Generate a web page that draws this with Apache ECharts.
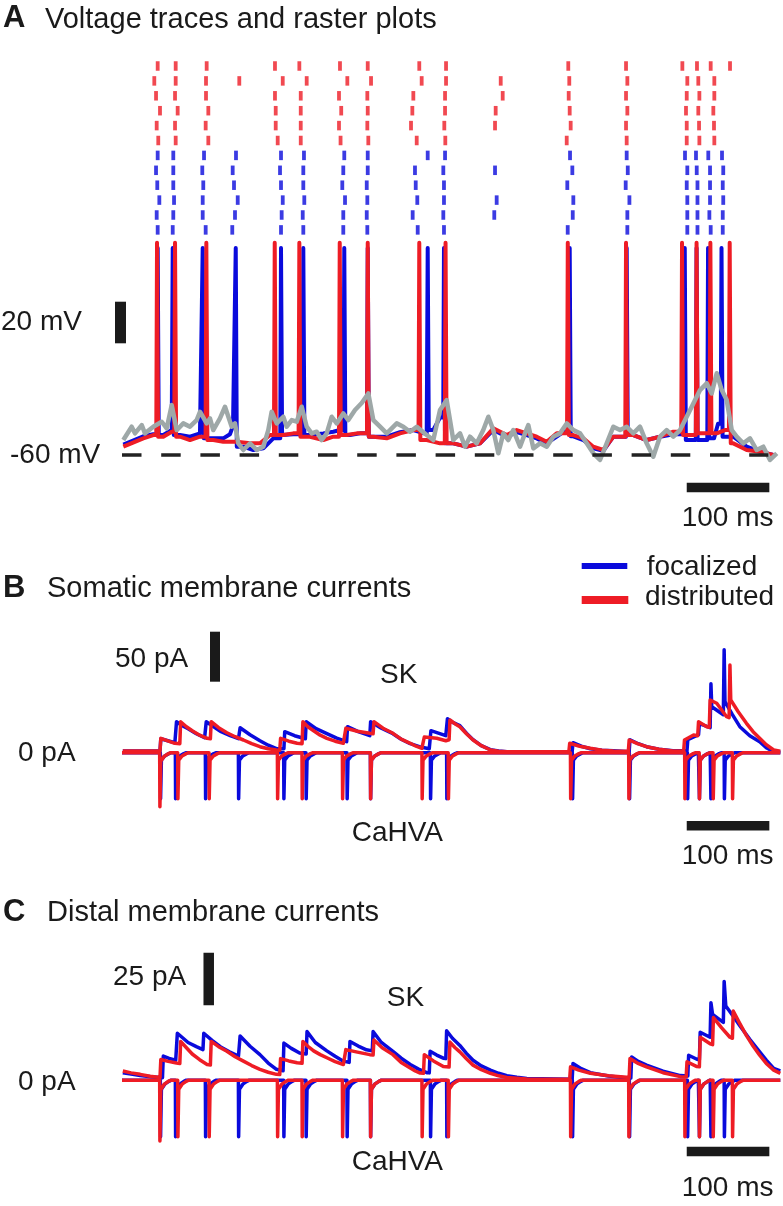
<!DOCTYPE html>
<html><head><meta charset="utf-8">
<script src="https://cdn.jsdelivr.net/npm/echarts@6/dist/echarts.min.js"></script>
<style>html,body{margin:0;padding:0;background:#fff}#c{width:783px;height:1206px}</style>
</head><body><div id="c"></div>
<script>
// ===== DATA (time in ms, voltage in mV, current in pA) =====
const redSpikes  = [42.4, 64.2, 102.1, 184.9, 214.7, 263.6, 297.5, 359.9, 391.7, 539.7, 610.2, 678.0, 695.6, 712.3, 735.7];
const blueSpikes = [43.2, 61.4, 97.7, 137.7, 192.5, 219.5, 269.1, 297.5, 370.1, 389.8, 542.0, 611.0, 681.3, 695.6, 709.5, 725.8];
const redPeak = 42, bluePeak = 39.5;

const redBase = [[1.6,-56],[25.8,-52],[37.9,-50.4],[50,-51.2],[60.2,-48.8],[70.2,-51.2],[82.3,-52.8],[94.4,-51.2],[110.5,-52.8],[122.6,-53.6],[138.9,-53.6],[155,-54.4],[167.1,-54.4],[179.2,-50.4],[195.3,-50.4],[207.4,-49.6],[227.6,-51.2],[243.7,-52.8],[255.8,-51.2],[272,-50.4],[284.2,-49.6],[304.3,-51.2],[320.5,-52],[336.6,-49.6],[352.7,-48],[368.9,-52.8],[385,-54.4],[401.1,-54.4],[417.3,-56],[433.4,-54.4],[449.5,-47.2],[465.8,-50.4],[477.9,-48],[490,-49.6],[502.1,-51.2],[514.2,-53.6],[526.3,-49.6],[546.4,-50.4],[558.5,-52],[570.6,-56],[582.7,-57.6],[594.8,-51.2],[619,-50.4],[635.2,-52.8],[651.3,-51.2],[667.5,-48.8],[685.6,-50.4],[701.8,-49.6],[720,-49.6],[730,-48],[740.1,-54.4],[756.3,-57.6],[772.4,-58.4],[788.5,-60]];
const blueBase = [[1.6,-55],[25.8,-51],[37.9,-50],[50,-50.4],[60.2,-48],[70.2,-50.4],[82.3,-51.2],[94.4,-49.6],[110.5,-52],[122.6,-52],[130.7,-50],[134.4,-46],[146.9,-56],[159,-57.6],[171.1,-56.8],[183.2,-52],[195.3,-50.4],[207.4,-50],[227.6,-50.4],[243.7,-49.6],[255.8,-48.8],[263.9,-48],[276,-50.4],[288.1,-49.6],[304.3,-51.2],[320.5,-51.2],[336.6,-49],[352.7,-48],[360.8,-49],[368.9,-50],[376.9,-48],[385,-42],[401.1,-54.4],[417.3,-56],[433.4,-54.4],[449.5,-48],[465.8,-51.2],[477.9,-49],[490,-50.4],[502.1,-52],[514.2,-54.4],[526.3,-51.2],[533.9,-49],[546.4,-51],[558.5,-52.8],[570.6,-56.8],[582.7,-58],[594.8,-51.2],[619,-50.4],[635.2,-52.8],[651.3,-51.2],[667.5,-50],[687.9,-52.8],[701.8,-52.8],[716.7,-52],[721.6,-45],[740.1,-51.2],[756.3,-56],[772.4,-58.4],[788.5,-60]];
const grayTrace = [[1.6,-52.8],[11.7,-46.4],[15.7,-49.6],[23.9,-45.6],[27.8,-49.6],[37.9,-46.4],[48.1,-44],[54.1,-47.2],[60.2,-36],[66.2,-48],[74.2,-44.8],[82.3,-46.4],[90.4,-43.2],[94.4,-39.2],[102.5,-44.8],[106.5,-42.4],[110.5,-48],[118.6,-42.4],[124.7,-36.8],[132.8,-46.4],[136.8,-44.8],[140.8,-54.4],[146.9,-57.6],[155,-54.4],[163.1,-57.6],[171.1,-56],[177.1,-48],[181.2,-39.2],[187.3,-44.8],[195.3,-41.6],[199.4,-46.4],[205.5,-43.2],[211.5,-44],[217.6,-36.8],[223.6,-46.4],[229.7,-49.6],[235.7,-48.8],[241.8,-52.8],[247.8,-49.6],[253.9,-41.6],[259.9,-44.8],[267.9,-40],[274,-43.2],[282.1,-38.4],[290.2,-35],[298.2,-30.4],[304.3,-43.2],[312.4,-46.4],[320.5,-49.6],[332.6,-44.8],[340.6,-46.4],[348.7,-48.8],[356.8,-46.4],[368.9,-50.4],[376.9,-52.8],[385,-38.4],[393.1,-33.6],[401.1,-52.8],[409.2,-49.6],[415.3,-56],[421.3,-51.2],[429.4,-54.4],[437.4,-48],[443.5,-41.6],[449.5,-48],[455.6,-59.2],[461.6,-49.6],[467.7,-52.8],[473.7,-48],[481.9,-56],[487.9,-49.6],[491.9,-45.6],[498,-56.8],[506.1,-54.4],[514.2,-56],[522.2,-51.2],[530.3,-49.6],[538.4,-44.8],[546.4,-48],[554.5,-49.6],[562.6,-54.4],[570.6,-59.2],[578.7,-62.4],[586.8,-54.4],[594.8,-46.4],[602.9,-48],[611,-46.4],[619,-49.6],[627.1,-46.4],[635.2,-54.4],[643.2,-60.8],[651.3,-51.2],[659.4,-48],[667.5,-51.2],[675.6,-48],[683.7,-41.6],[691.7,-35.2],[699.8,-28.8],[707.9,-25.5],[713.9,-30.4],[720,-20.7],[726.1,-28.8],[732.1,-33.6],[738.2,-48],[744.2,-51.2],[752.2,-54.4],[760.3,-52],[768.4,-57.6],[776.4,-56],[784.5,-62.4],[792.7,-59.2]];

// raster: spike times (ms) per trial
const rasterRed = [
  [43.2,65.0,102.5,185.2,214.7,263.9,297.5,359.9,392.3,540.3,610.2,678.4,696.1,712.7,736.1],
  [39.1,65.0,101.7,142.0,194.6,223.6,272.8,301.5,362.8,392.3,458.5,541.5,611.8,684.4,697.7,717.1],
  [41.2,64.2,101.7,185.2,216.4,262.7,297.0,352.7,391.1,460.9,540.8,610.2,683.7,699.0,717.1],
  [46.0,67.4,104.5,186.1,216.4,265.4,297.5,351.5,391.1,452.4,542.0,611.8,682.8,697.7,715.9],
  [42.0,64.2,101.3,186.1,216.4,262.7,297.0,349.9,390.2,451.6,543.2,610.2,683.7,698.6,716.7],
  [43.9,65.0,104.5,188.5,216.4,264.6,298.2,356.8,391.4,538.4,611.0,683.7,699.0,717.1]
];
const rasterBlue = [
  [43.2,62.1,99.3,138.0,192.5,220.3,269.1,297.5,370.1,391.1,542.4,611.0,681.6,694.9,709.8,726.4],
  [41.2,62.1,97.2,134.0,191.3,219.5,267.9,297.5,354.7,389.0,451.6,545.2,612.3,684.4,695.8,711.9,727.9],
  [42.7,62.1,98.4,135.6,192.5,219.5,266.7,296.3,355.6,389.8,539.1,609.8,683.7,696.7,711.9,727.3],
  [45.2,63.0,97.7,140.1,194.6,220.7,270.0,297.0,357.5,389.8,453.6,546.4,614.3,684.4,696.7,711.9,727.9],
  [42.0,62.1,97.7,136.8,193.3,218.8,267.9,296.3,351.9,389.0,450.7,545.7,611.8,684.4,696.7,711.1,727.3],
  [43.2,61.4,101.3,133.5,192.5,219.5,267.9,297.0,358.0,389.8,539.6,611.8,684.4,696.7,712.7,727.3]
];

// somatic SK current (pA)
const somaSKRed = [[1,1.7],[46,1.7],[47,14.4],[64,9.4],[70,9],[71,31],[78,26],[85,22],[94,17.5],[103,14.4],[107,14],[108,31],[117,25],[127,20],[137,16],[147,12.7],[157,9],[167,6],[177,4],[187,2.7],[191,2.5],[192,14.4],[202,11.5],[212,9.4],[218,9],[219,31],[225,26],[232,22],[240,17.5],[248,14.4],[258,11.5],[268,9.4],[270,9],[271,24.4],[285,21.5],[300,19.4],[304,19],[305,31],[316,24.5],[328,19.4],[338,13.5],[349,9.4],[356,6.5],[363,4.4],[365,4.3],[366,15.7],[381,14.4],[392,12],[396,13],[397,32.7],[403,29],[409,26],[417,19],[425,12.7],[435,7],[446,2.7],[456,1.5],[466,1],[541,1],[542,9.4],[554,6.5],[567,4.4],[581,2.5],[595,1.7],[613,1.5],[614,12.7],[624,9],[635,6],[650,3.4],[667,1.7],[680,1.7],[681,12.7],[692,17.7],[697,17],[698,31],[708,26],[711,25.5],[712,52.7],[720,49.4],[732,36],[735,35],[736,87.7],[737,52.7],[746,41],[756,29.4],[764,21],[772,14.4],[780,8],[789,2.7],[797,1.5]];
const somaSKBlue = [[1,1.7],[46,1.7],[47,14],[64,10],[66,31],[73,27],[80,24],[90,19],[100,15],[102,31],[111,26],[120,21],[131,17],[141,14],[143,25],[155,18],[167,12],[177,7.5],[187,4],[196,4],[197,21],[209,17],[222,14],[223,31],[235,24],[248,19],[260,14.5],[272,11],[273,26],[286,21],[300,17],[301,31],[314,24.5],[328,19],[338,13.5],[349,9],[360,6],[372,4],[374,22],[383,19.5],[392,17],[394,34],[401,30],[409,27],[417,19.5],[425,13],[435,7],[446,3],[456,1.7],[466,1],[545,1],[546,10],[556,6.5],[567,4],[581,2.5],[595,2],[614,1],[615,13],[625,9],[635,6],[650,3.5],[667,2],[684,2],[685,13],[698,18],[699,29],[712,25],[713,69],[714,46],[728,38],[729,103],[730,51],[739,38],[748,26],[760,17],[772,11],[780,5],[789,1],[797,1]];
// distal SK current (pA)
const distSKRed = [[1,4.4],[11,3.5],[22,2.8],[34,1.9],[46,1.3],[47,9.9],[56,9],[66,8.2],[70,8],[71,18.5],[78,15.5],[85,12.5],[94,9.8],[103,7.5],[107,7.3],[108,18.5],[117,16],[127,13.8],[137,11.2],[147,9.1],[157,7],[167,5.2],[177,3.8],[187,2.8],[191,2.7],[192,10.3],[202,9.2],[212,8.3],[218,8.1],[219,18.5],[225,16.2],[232,14],[240,12.2],[248,10.7],[258,8.9],[268,7.5],[270,7.4],[271,14.6],[285,13.4],[300,12.2],[304,12],[305,19.2],[315,15.5],[328,12.2],[338,8.5],[349,5.8],[355,4.4],[361,3.4],[365,3.3],[366,12.2],[377,9.2],[389,6.5],[396,6.3],[397,18.2],[403,15.6],[409,13.5],[417,10.2],[425,7.2],[435,5],[446,3.3],[456,2.1],[466,1.3],[478,0.9],[490,0.6],[542,0.5],[543,6.4],[553,4.8],[567,3.3],[589,2.1],[611,1.4],[614,1.3],[615,10.3],[624,8.2],[635,6.4],[655,3.6],[676,1.7],[683,1.5],[684,8.8],[696,6.5],[699,6.4],[700,20.5],[712,17.4],[715,17],[716,29.9],[726,25],[736,20.5],[739,20],[740,33],[748,27],[756,21.3],[764,16.3],[772,11.9],[780,8],[789,4.8],[797,3.3]];
const distSKBlue = [[1,3.6],[11,2.9],[22,2.3],[35,1.7],[49,1.2],[50,11.5],[57,10.4],[65,9.5],[67,22.4],[80,18],[90,16],[98,14.6],[99,22.4],[109,19],[119,16],[130,13.6],[141,11.5],[143,21.1],[155,16.2],[167,12.2],[177,8.2],[187,5.2],[195,4.5],[196,17.7],[205,15.2],[215,13],[223,12.5],[224,23.2],[234,18],[248,14],[258,11.4],[268,9.1],[275,8.5],[276,18.5],[286,16.3],[296,14.5],[303,14],[304,23.2],[314,18],[328,13.8],[338,10.5],[349,7.5],[359,5.3],[369,3.6],[372,3.5],[373,13.8],[381,12],[389,10.5],[392,10.3],[393,23.6],[400,20],[409,16.6],[417,12.8],[425,9.5],[435,6.8],[446,4.8],[456,3.3],[466,2.2],[478,1.4],[490,0.8],[545,0.5],[546,8],[556,5.5],[567,3.6],[589,2],[611,1.1],[616,1],[617,11.1],[625,9],[635,7.2],[655,4.3],[676,2.2],[685,2],[686,11.9],[696,10],[699,9.8],[700,22.9],[712,20.5],[713,36.9],[715,31.4],[728,27.6],[729,47.1],[731,35.4],[740,30.5],[748,26],[760,19.5],[772,13.5],[780,9.6],[789,5.6],[797,4.5]];

// CaHVA transient depth (pA) at each spike
const somaCaRed  = [54,46,46,46,46,46,46,46,46,46,46,46,46,46,46];
const somaCaBlue = [46,46,46,46,46,46,46,46,46,46,46,46,46,46,46,46];
const distCaRed  = [29,27,27,27,27,27,27,27,27,27,27,27,27,27,27];
const distCaBlue = [27,27,27,27,27,27,27,27,27,27,27,27,27,27,27,27];
const caDelay = 3.5;

// ===== LAYOUT =====
const RED = '#ee1c25', BLUE = '#0a0adc', GRAY = '#9ea8a8', INK = '#1a1a1a';
const X0 = 122, K = 0.826, XMIN = -20, XMAX = 800;
const gLeft = X0 + XMIN * K, gWidth = (XMAX - XMIN) * K;
const FONT = '"Liberation Sans", Arial, Helvetica, sans-serif';

function buildTrace(base, spikes, peak) {
  const pts = base.map(p => p.slice());
  spikes.forEach(ts => {
    let before = base[0][1], after = base[base.length - 1][1];
    for (const p of base) { if (p[0] < ts) before = p[1]; }
    for (let i = base.length - 1; i >= 0; i--) { if (base[i][0] > ts) after = base[i][1]; }
    pts.push([ts - 0.9, before], [ts, peak], [ts + 1.3, after]);
  });
  return pts.sort((a, b) => a[0] - b[0]);
}
const caShape = [[-0.3, 0], [0, -1], [1.0, -0.16], [5, -0.07], [10, -0.02], [13, 0]];
function buildCa(spikes, depths) {
  const pts = [[0, 0]];
  spikes.forEach((ts, i) => {
    const t0 = ts + caDelay;
    const next = i + 1 < spikes.length ? spikes[i + 1] + caDelay - 0.3 : Infinity;
    caShape.forEach(s => { if (t0 + s[0] < next) pts.push([t0 + s[0], s[1] * depths[i]]); });
  });
  pts.push([797, 0]);
  return pts;
}

const grids = [
  { left: gLeft, width: gWidth, top: 58.55, height: 178.8 },
  { left: gLeft, width: gWidth, top: 234.52, height: 262.08 },
  { left: gLeft, width: gWidth, top: 627.7, height: 195 },
  { left: gLeft, width: gWidth, top: 950.24, height: 259.86 }
];
const xAxes = grids.map((g, i) => ({ gridIndex: i, type: 'value', min: XMIN, max: XMAX, show: false }));
const yAxes = [
  { gridIndex: 0, type: 'value', min: -0.5, max: 11.5, inverse: true, show: false },
  { gridIndex: 1, type: 'value', min: -80, max: 46, show: false },
  { gridIndex: 2, type: 'value', min: -70, max: 125, show: false },
  { gridIndex: 3, type: 'value', min: -60, max: 62, show: false }
];

function line(idx, data, color, width, extra) {
  return Object.assign({ type: 'line', xAxisIndex: idx, yAxisIndex: idx, data, showSymbol: false, symbol: 'none',
    lineStyle: { color, width, join: 'round' }, silent: true, animation: false }, extra || {});
}
function bar(idx, p1, p2, width) {
  return line(idx, [p1, p2], INK, width, { clip: false, lineStyle: { color: INK, width, cap: 'butt' }, z: 5 });
}

const series = [];
rasterRed.concat(rasterBlue).forEach((row, i) => {
  series.push({ type: 'scatter', xAxisIndex: 0, yAxisIndex: 0, symbol: 'rect', symbolSize: [3.8, 9.5],
    itemStyle: { color: i < rasterRed.length ? RED : BLUE }, data: row.map(t => [t, i]), silent: true, animation: false });
});
series.push(line(1, buildTrace(blueBase, blueSpikes, bluePeak), BLUE, 4));
series.push(line(1, buildTrace(redBase, redSpikes, redPeak), RED, 4));
series.push(line(1, grayTrace, GRAY, 4.5));
series.push(line(1, [[0, -60], [782.5, -60]], '#222', 3.3, { lineStyle: { color: '#222', width: 3.3, type: [19.5, 19.7], cap: 'butt' } }));
series.push(bar(1, [-1.8, -6.3], [-1.8, 13.7], 11));
series.push(bar(1, [683.7, -75.6], [783.7, -75.6], 9.6));
series.push(line(2, somaSKBlue, BLUE, 3.5));
series.push(line(2, buildCa(blueSpikes, somaCaBlue), BLUE, 3.5));
series.push(line(2, somaSKRed, RED, 3.5));
series.push(line(2, buildCa(redSpikes, somaCaRed), RED, 3.5));
series.push(bar(2, [112.6, 71], [112.6, 121], 10));
series.push(bar(2, [683.7, -73], [783.7, -73], 9.6));
series.push(line(3, distSKBlue, BLUE, 3.5));
series.push(line(3, buildCa(blueSpikes, distCaBlue), BLUE, 3.5));
series.push(line(3, distSKRed, RED, 3.5));
series.push(line(3, buildCa(redSpikes, distCaRed), RED, 3.5));
series.push(bar(3, [105, 35.8], [105, 60.8], 10.5));
series.push(bar(3, [683.7, -34], [783.7, -34], 9.6));

function txt(x, baseline, s, size, bold) {
  return { type: 'text', x, y: baseline - 0.36 * size, silent: true,
    style: { text: s, font: (bold ? 'bold ' : '') + size + 'px ' + FONT, fill: INK,
      align: 'left', verticalAlign: 'middle', textAlign: 'left', textVerticalAlign: 'middle' } };
}
const graphic = [
  txt(3, 30, 'A', 31, true), txt(45, 30, 'Voltage traces and raster plots', 29),
  txt(1, 332, '20 mV', 28), txt(10, 465, '-60 mV', 28),
  txt(681.7, 528, '100 ms', 28),
  { type: 'line', shape: { x1: 581.7, y1: 566, x2: 627.3, y2: 566 }, style: { stroke: BLUE, lineWidth: 6 } },
  { type: 'line', shape: { x1: 581.7, y1: 600, x2: 628.3, y2: 600 }, style: { stroke: RED, lineWidth: 8 } },
  txt(646.7, 577, 'focalized', 28), txt(645, 607, 'distributed', 28),
  txt(3, 600, 'B', 31, true), txt(47, 599, 'Somatic membrane currents', 29),
  txt(115, 669, '50 pA', 28), txt(380, 685, 'SK', 28),
  txt(18, 763, '0 pA', 28), txt(351.7, 843, 'CaHVA', 28), txt(681.7, 866, '100 ms', 28),
  txt(3, 924, 'C', 31, true), txt(47, 923, 'Distal membrane currents', 29),
  txt(113, 987, '25 pA', 28), txt(386.7, 1008, 'SK', 28),
  txt(18, 1092, '0 pA', 28), txt(351.7, 1172, 'CaHVA', 28), txt(681.7, 1198, '100 ms', 28)
];

const chart = echarts.init(document.getElementById('c'), null, { renderer: 'canvas' });
chart.setOption({ animation: false, backgroundColor: '#fff', grid: grids, xAxis: xAxes, yAxis: yAxes, series, graphic });
</script></body></html>
